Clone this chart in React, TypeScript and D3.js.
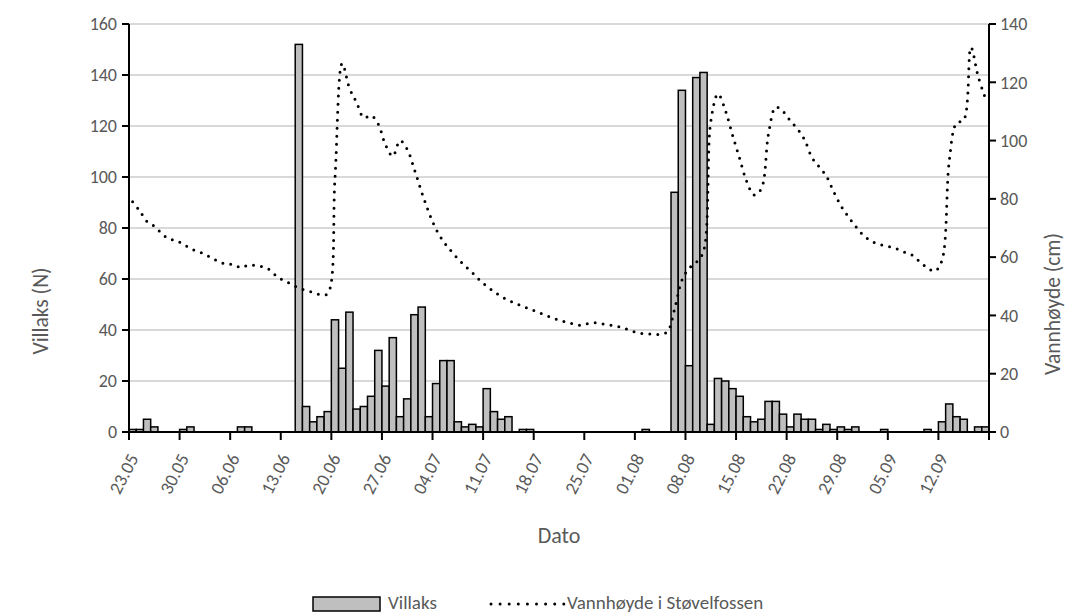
import React from "react";
import * as d3 from "d3";

// Daily counts of wild salmon (Villaks) from 23.05 to 18.09
const villaks: number[] = [
  1, 1, 5, 2, 0, 0, 0, 1, 2, 0, 0, 0, 0, 0, 0, 2, 2, 0, 0, 0, 0, 0, 0,
  152, 10, 4, 6, 8, 44, 25, 47, 9, 10, 14, 32, 18, 37, 6, 13, 46, 49, 6, 19,
  28, 28, 4, 2, 3, 2, 17, 8, 5, 6, 0, 1, 1,
  0, 0, 0, 0, 0, 0, 0, 0, 0, 0, 0, 0, 0, 0, 0, 1, 0, 0, 0,
  94, 134, 26, 139, 141, 3, 21, 20, 17, 14, 6, 4, 5, 12, 12, 7, 2, 7, 5, 5,
  1, 3, 1, 2, 1, 2,
  0, 0, 0, 1, 0, 0, 0, 0, 0, 1, 0, 4, 11, 6, 5, 0, 2, 2,
];

// Daily water level at Støvelfossen (cm)
const vannhoyde: number[] = [
  79, 75.8, 72.2, 70.6, 68.2, 66.3, 65.7, 64.5, 62.9, 62, 61, 59.6, 58.4, 57.5,
  57.5, 56.4, 57.3, 57.1, 56.7, 55.6, 53.3, 51.9, 50.7, 49.4, 48.6, 47.9, 47.1,
  47.5, 87, 126.5, 118, 113, 107.8, 108.6, 105.6, 98.5, 94.6, 100, 97, 90, 82.3,
  75.3, 69.5, 65.4, 62.3, 59.5, 57, 54.7, 52.2, 50, 48.2, 46.5, 45.2, 44.1,
  43.1, 42.2, 41.2, 40.2, 39.3, 38.4, 37.7, 37.1, 36.6, 37.2, 37.5, 37.1, 36.7,
  36.3, 35.6, 34.7, 34, 33.7, 33.6, 33.5, 34.4, 42.2, 52, 56.2, 58.2, 62, 106.5,
  116, 110.5, 102, 93.8, 85.8, 81.3, 83.5, 102.5, 111.5, 110, 106.8, 104, 100.2,
  94.2, 91, 87.8, 82.5, 77.7, 74, 70.7, 67.8, 65.8, 64.6, 64, 63.4, 62.6, 61.5,
  60.5, 58.2, 56.3, 55.2, 59, 93, 106, 107, 132, 122, 114.5,
];

// Date labels, one every seventh day
const dateLabels: string[] = [
  "23.05", "30.05", "06.06", "13.06", "20.06", "27.06", "04.07", "11.07",
  "18.07", "25.07", "01.08", "08.08", "15.08", "22.08", "29.08", "05.09", "12.09",
];

const leftTicks: number[] = [0, 20, 40, 60, 80, 100, 120, 140, 160];
const rightTicks: number[] = [0, 20, 40, 60, 80, 100, 120, 140];

const W = 1087;
const H = 615;
const M = { left: 129, right: 989, top: 24, bottom: 432 };
const FONT = "Calibri, Carlito, Lato, sans-serif";
const TEXT = "#595959";

export default function App() {
  const days = d3.range(villaks.length);
  const x = d3
    .scaleBand<number>()
    .domain(days)
    .range([M.left, M.right])
    .padding(0);
  const yL = d3.scaleLinear().domain([0, 160]).range([M.bottom, M.top]);
  const yR = d3.scaleLinear().domain([0, 140]).range([M.bottom, M.top]);
  const bw = x.bandwidth();

  const line = d3
    .line<number>()
    .x((_, i) => (x(i) as number) + bw / 2)
    .y((d) => yR(d))
    .curve(d3.curveCatmullRom.alpha(0.5));

  const tickIdx = d3.range(0, villaks.length + 1, 7);
  const tickX = (i: number) => M.left + i * bw;

  return (
    <svg
      width={W}
      height={H}
      viewBox={`0 0 ${W} ${H}`}
      style={{ position: "absolute", left: 0, top: 0, background: "#fff" }}
    >
      {/* gridlines */}
      {leftTicks.slice(1).map((t) => (
        <line
          key={"g" + t}
          x1={M.left}
          x2={M.right}
          y1={yL(t)}
          y2={yL(t)}
          stroke="#d9d9d9"
          strokeWidth={2}
        />
      ))}

      {/* bars */}
      {villaks.map((v, i) =>
        v > 0 ? (
          <rect
            key={"b" + i}
            x={x(i)}
            y={yL(v)}
            width={bw}
            height={M.bottom - yL(v)}
            fill="#bfbfbf"
            stroke="#000"
            strokeWidth={1.5}
          />
        ) : null
      )}

      {/* water level */}
      <path
        d={line(vannhoyde) || ""}
        fill="none"
        stroke="#000"
        strokeWidth={3}
        strokeDasharray="0 8"
        strokeLinecap="round"
      />

      {/* axes */}
      <line x1={M.left} x2={M.left} y1={M.top} y2={M.bottom} stroke="#000" strokeWidth={2} />
      <line x1={M.right} x2={M.right} y1={M.top} y2={M.bottom} stroke="#000" strokeWidth={2} />
      <line x1={M.left - 1} x2={M.right + 1} y1={M.bottom} y2={M.bottom} stroke="#000" strokeWidth={2} />

      {leftTicks.map((t) => (
        <g key={"l" + t}>
          <line x1={M.left - 7} x2={M.left} y1={yL(t)} y2={yL(t)} stroke="#000" strokeWidth={2} />
          <text
            x={117}
            y={yL(t)}
            dy="0.35em"
            textAnchor="end"
            fontFamily={FONT}
            fontSize={18}
            fill={TEXT}
          >
            {t}
          </text>
        </g>
      ))}

      {rightTicks.map((t) => (
        <g key={"r" + t}>
          <line x1={M.right} x2={M.right + 7} y1={yR(t)} y2={yR(t)} stroke="#000" strokeWidth={2} />
          <text
            x={1000}
            y={yR(t)}
            dy="0.35em"
            textAnchor="start"
            fontFamily={FONT}
            fontSize={18}
            fill={TEXT}
          >
            {t}
          </text>
        </g>
      ))}

      {tickIdx.map((i) => (
        <line
          key={"t" + i}
          x1={tickX(i)}
          x2={tickX(i)}
          y1={M.bottom}
          y2={M.bottom + 8}
          stroke="#000"
          strokeWidth={2}
        />
      ))}

      {dateLabels.map((lab, k) => {
        const tx = tickX(k * 7) + 10;
        const ty = 458;
        return (
          <text
            key={"d" + k}
            x={0}
            y={0}
            transform={`translate(${tx},${ty}) rotate(-63)`}
            textAnchor="end"
            fontFamily={FONT}
            fontSize={18.5}
            fill={TEXT}
          >
            {lab}
          </text>
        );
      })}

      {/* axis titles */}
      <text
        x={559}
        y={543}
        textAnchor="middle"
        fontFamily={FONT}
        fontSize={22}
        fill={TEXT}
      >
        Dato
      </text>
      <text
        transform={`translate(48,311) rotate(-90)`}
        textAnchor="middle"
        fontFamily={FONT}
        fontSize={21.5}
        fill={TEXT}
      >
        Villaks (N)
      </text>
      <text
        transform={`translate(1060,304) rotate(-90)`}
        textAnchor="middle"
        fontFamily={FONT}
        fontSize={21.5}
        fill={TEXT}
      >
        Vannhøyde (cm)
      </text>

      {/* legend */}
      <rect x={313} y={597} width={67} height={14} fill="#bfbfbf" stroke="#000" strokeWidth={1.5} />
      <text x={388} y={609} fontFamily={FONT} fontSize={19} fill={TEXT}>
        Villaks
      </text>
      <line
        x1={491}
        x2={564}
        y1={604}
        y2={604}
        stroke="#000"
        strokeWidth={3}
        strokeDasharray="0 9.1"
        strokeLinecap="round"
      />
      <text x={567} y={609} fontFamily={FONT} fontSize={19} fill={TEXT}>
        Vannhøyde i Støvelfossen
      </text>
    </svg>
  );
}
